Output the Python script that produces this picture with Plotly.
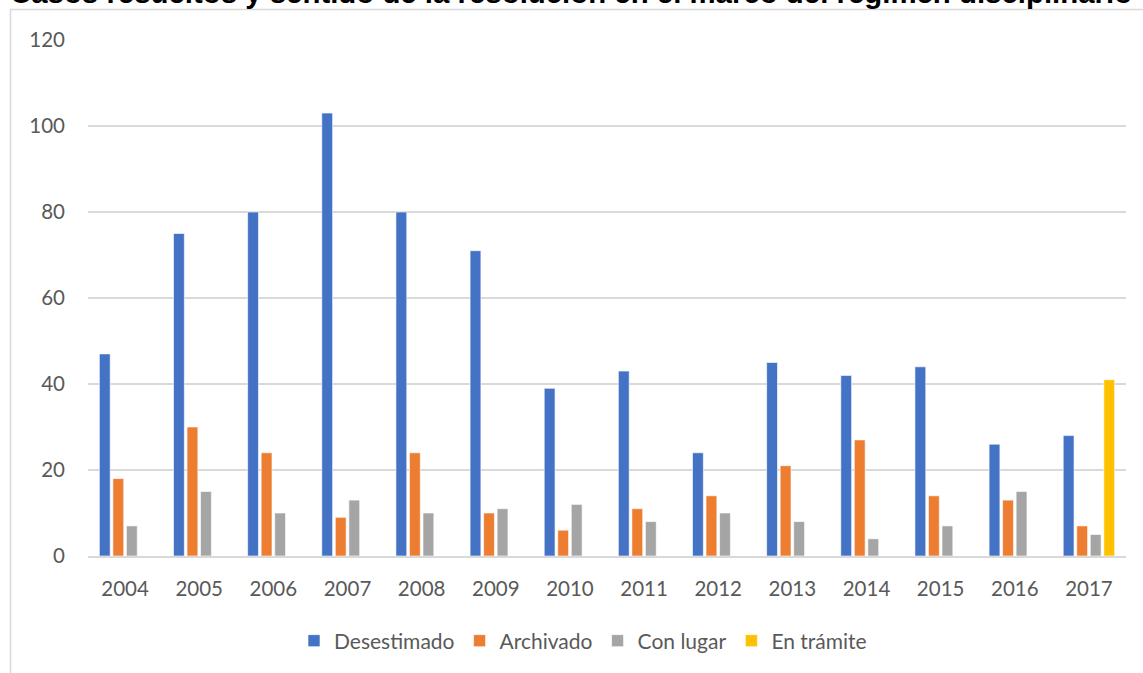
import plotly.graph_objects as go

years = ["2004", "2005", "2006", "2007", "2008", "2009", "2010",
         "2011", "2012", "2013", "2014", "2015", "2016", "2017"]
desestimado = [47, 75, 80, 103, 80, 71, 39, 43, 24, 45, 42, 44, 26, 28]
archivado = [18, 30, 24, 9, 24, 10, 6, 11, 14, 21, 27, 14, 13, 7]
con_lugar = [7, 15, 10, 13, 10, 11, 12, 8, 10, 8, 4, 7, 15, 5]
en_tramite = [None, None, None, None, None, None, None,
              None, None, None, None, None, None, 41]

series = [
    ("Desestimado", desestimado, "#4472C4"),
    ("Archivado", archivado, "#ED7D31"),
    ("Con lugar", con_lugar, "#A5A5A5"),
    ("En trámite", en_tramite, "#FFC000"),
]

font_family = "Lato, 'Open Sans', sans-serif"

fig = go.Figure()
for name, vals, color in series:
    fig.add_trace(go.Bar(
        x=years, y=vals, name=name,
        marker=dict(color=color, line=dict(color="rgba(255,255,255,0.6)", width=1)),
    ))

W, H = 1143, 673
L, R, T, B = 88, 17, 40, 117
pw, ph = W - L - R, H - T - B

def px_x(p):
    return (p - L) / pw

def px_y(p):
    return (H - B - p) / ph

fig.update_layout(
    width=W, height=H,
    margin=dict(l=L, r=R, t=T, b=B),
    paper_bgcolor="white", plot_bgcolor="white",
    barmode="group", bargap=0.27, bargroupgap=0.2,
    font=dict(family=font_family, size=20, color="#595959"),
    showlegend=True,
    legend=dict(orientation="h", x=px_x(583), xanchor="center",
                y=px_y(641), yanchor="middle",
                font=dict(size=21, color="#595959"),
                itemwidth=30, traceorder="normal"),
    xaxis=dict(showgrid=False, showline=True, linecolor="#D9D9D9", linewidth=2,
               ticks="", tickfont=dict(size=20.5, color="#595959"), ticklabelstandoff=13),
    yaxis=dict(range=[0, 120], dtick=20, showgrid=True, gridcolor="#D9D9D9",
               gridwidth=1.5, zeroline=False, showline=False, ticks="",
               tickfont=dict(size=20.5, color="#595959"), ticklabelstandoff=22),
    shapes=[dict(type="rect", xref="paper", yref="paper",
                 x0=px_x(10.5), x1=px_x(1160), y0=px_y(700), y1=px_y(9.5),
                 line=dict(color="#D9D9D9", width=1.5), fillcolor="rgba(0,0,0,0)",
                 layer="above")],
    annotations=[dict(text="<b>Casos resueltos y sentido de la resolución en el marco del régimen disciplinario</b>",
                      xref="paper", yref="paper", x=px_x(571), y=px_y(11),
                      xanchor="center", yanchor="bottom", showarrow=False,
                      font=dict(family="Liberation Sans, Arial, sans-serif", size=29.4, color="black"))],
)

fig.write_html("out.html")
